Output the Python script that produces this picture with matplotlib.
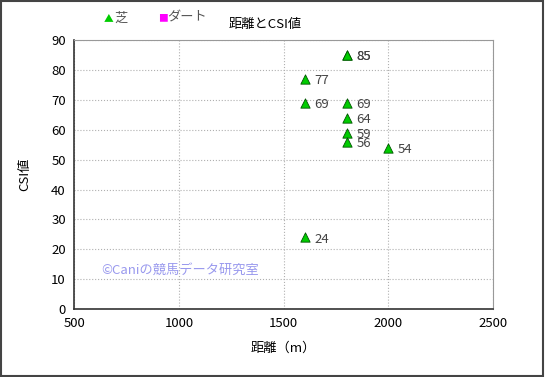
import matplotlib
matplotlib.use('Agg')
import matplotlib.pyplot as plt
from matplotlib.patches import Rectangle

plt.rcParams['font.family'] = ['Noto Sans CJK JP', 'DejaVu Sans']

# 芝 data: distance (m) and CSI value
shiba_dist = [1600, 1600, 1600, 1800, 1800, 1800, 1800, 1800, 1800, 2000]
shiba_csi = [77, 69, 24, 85, 85, 69, 64, 59, 56, 54]
dirt_dist = []
dirt_csi = []

x_ticks = [500, 1000, 1500, 2000, 2500]
y_ticks = list(range(0, 100, 10))

fig = plt.figure(figsize=(5.45, 3.77), dpi=100)
ax = fig.add_axes([0.136, 0.180, 0.769, 0.714])

ax.scatter(shiba_dist, shiba_csi, marker='^', s=45, c='#00cc00',
           edgecolors='#005500', linewidths=0.6, zorder=3)
ax.scatter(dirt_dist, dirt_csi, marker='s', s=30, c='#ff00ff', zorder=3)
for x, y in zip(shiba_dist, shiba_csi):
    ax.annotate(str(y), (x, y), xytext=(7, -4), textcoords='offset points',
                fontsize=9.5, color='#444444')

ax.set_xlim(500, 2500)
ax.set_ylim(0, 90)
ax.set_xticks(x_ticks)
ax.set_yticks(y_ticks)
ax.tick_params(length=0, labelsize=9.5, pad=6)
ax.grid(True, color='#b0b0b0', linestyle=':', linewidth=0.8)
ax.set_axisbelow(True)
for s in ['top', 'right']:
    ax.spines[s].set_color('#999999')
    ax.spines[s].set_linewidth(0.8)
for s in ['left', 'bottom']:
    ax.spines[s].set_color('#333333')
    ax.spines[s].set_linewidth(1.2)

ax.set_xlabel('距離（m）', fontsize=9.5, labelpad=8)
ax.set_ylabel('CSI値', fontsize=9.5, labelpad=14)

fig.text(0.487, 0.935, '距離とCSI値', fontsize=9.5, ha='center', va='center')
fig.text(0.19, 0.952, '▲', fontsize=7, color='#00cc00', va='center')
fig.text(0.21, 0.952, '芝', fontsize=9.5, color='#555555', va='center')
fig.text(0.29, 0.952, '■', fontsize=7, color='#ff00ff', va='center')
fig.text(0.307, 0.952, 'ダート', fontsize=9.5, color='#555555', va='center')

ax.text(0.065, 0.145, '©Caniの競馬データ研究室', transform=ax.transAxes,
        fontsize=9.5, color='#9999ee', va='center')

fig.patches.append(Rectangle((0.002, 0.003), 0.995, 0.994, transform=fig.transFigure,
                             fill=False, edgecolor='#444444', linewidth=1.5))

fig.savefig('out.png', dpi=100)
